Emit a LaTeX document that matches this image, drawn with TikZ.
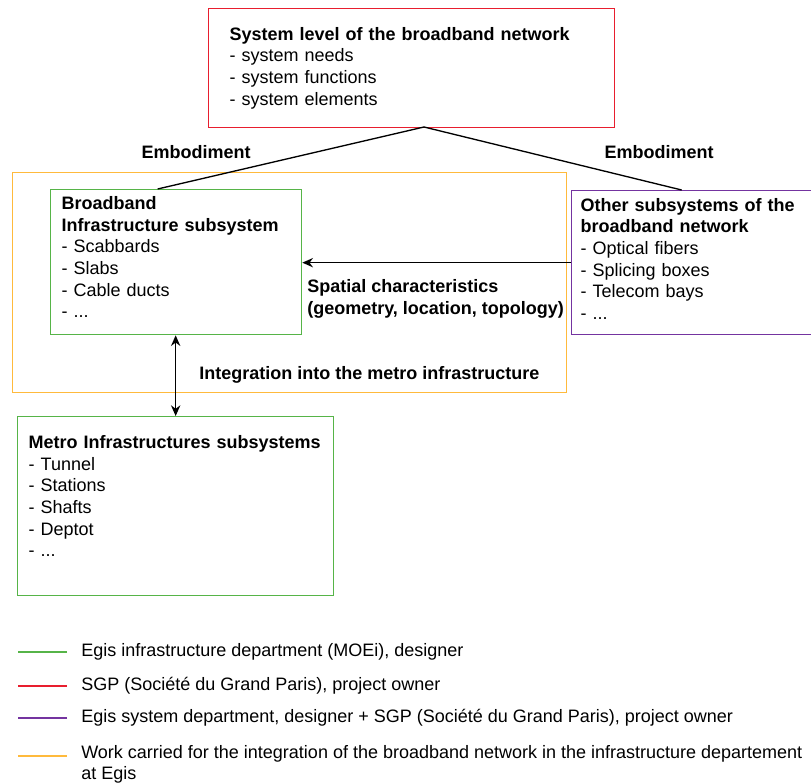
\documentclass[tikz,border=0pt]{standalone}
\usepackage{fontspec}
\setmainfont{Liberation Sans}
\usetikzlibrary{arrows.meta,positioning,calc}
\definecolor{sysred}{RGB}{232,30,46}
\definecolor{infgreen}{RGB}{86,180,72}
\definecolor{subpurple}{RGB}{116,52,160}
\definecolor{workorange}{RGB}{255,186,60}

\begin{document}
\begin{tikzpicture}[
  x=0.75pt, y=-0.75pt,
  font=\fontsize{13.5}{16.25}\selectfont,
  box/.style={draw, line width=1pt, anchor=north west, align=left, inner ysep=0pt},
  redbox/.style={box, draw=sysred, text width=273pt, inner xsep=15.75pt, minimum height=89.25pt},
  gbox/.style={box, draw=infgreen},
  pbox/.style={box, draw=subpurple, text width=166.5pt, inner xsep=6.75pt, minimum height=108pt},
  obox/.style={draw=workorange, line width=1pt, anchor=north west, inner sep=0pt, minimum width=415.5pt, minimum height=165pt},
  lbl/.style={font=\fontsize{13.5}{16.25}\selectfont\bfseries, align=left, inner sep=0pt},
  legtxt/.style={anchor=west, align=left, inner sep=0pt},
  legline/.style={line width=1.6pt},
  link/.style={line width=1pt},
  arrow/.style={-{Stealth[length=8pt,width=7pt]}, line width=1pt},
  darrow/.style={{Stealth[length=8pt,width=7pt]}-{Stealth[length=8pt,width=7pt]}, line width=1pt}
]
\useasboundingbox (0,0) rectangle (811,784);

% integration frame
\node[obox] (work) at (12,172) {};

% boxes
\node[redbox] (sys) at (208,8) {\textbf{System level of the broadband network}\\- system needs\\- system functions\\- system elements};
\node[gbox, text width=171.75pt, inner xsep=8.25pt, minimum height=108.75pt] (bbi) at (50,189)
  {\textbf{Broadband}\\\textbf{Infrastructure subsystem}\\- Scabbards\\- Slabs\\- Cable ducts\\- ...\rule[-7.5pt]{0pt}{7.5pt}};
\node[pbox] (other) at (571,190)
  {\textbf{Other subsystems of the}\\\textbf{broadband network}\\- Optical fibers\\- Splicing boxes\\- Telecom bays\\- ...\rule[-6pt]{0pt}{6pt}};
\node[gbox, text width=220.5pt, inner xsep=8.25pt, minimum height=134.25pt] (metro) at (17,416)
  {\textbf{Metro Infrastructures subsystems}\\- Tunnel\\- Stations\\- Shafts\\- Deptot\\- ...\rule[-15pt]{0pt}{15pt}};

% labels
\node[lbl] (emb1) at (196,152) {Embodiment};
\node[lbl] (emb2) at (659,152) {Embodiment};
\node[lbl, anchor=west] (spat) at (307,299) {Spatial characteristics\\(geometry, location, topology)};
\node[lbl, anchor=west] (integ) at (199,375) {Integration into the metro infrastructure};

% connectors
\coordinate (apex) at (424,127);
\draw[link] (apex) -- ([xshift=-13.9pt]bbi.north);
\draw[link] (apex) -- ([xshift=-7.5pt]other.north);
\draw[arrow] (other.west) -- (other.west -| bbi.east);
\draw[darrow] (metro.north |- bbi.south) -- (metro.north);

% legend
\node[legtxt] (lgreen) at (81,652) {Egis infrastructure department (MOEi), designer};
\node[legtxt] (lred) at (81,686) {SGP (Société du Grand Paris), project owner};
\node[legtxt] (lpurple) at (81,718) {Egis system department, designer + SGP (Société du Grand Paris), project owner};
\node[legtxt] (lorange) at (81,764.5) {Work carried for the integration of the broadband network in the infrastructure departement\\at Egis};
\draw[legline, infgreen] ($(lgreen.west)+(-14,0)$) -- ++(-49,0);
\draw[legline, sysred] ($(lred.west)+(-14,0)$) -- ++(-49,0);
\draw[legline, subpurple] ($(lpurple.west)+(-14,0)$) -- ++(-49,0);
\draw[legline, workorange] ($(lorange.west)+(-14,-8.5)$) -- ++(-49,0);
\end{tikzpicture}
\end{document}
